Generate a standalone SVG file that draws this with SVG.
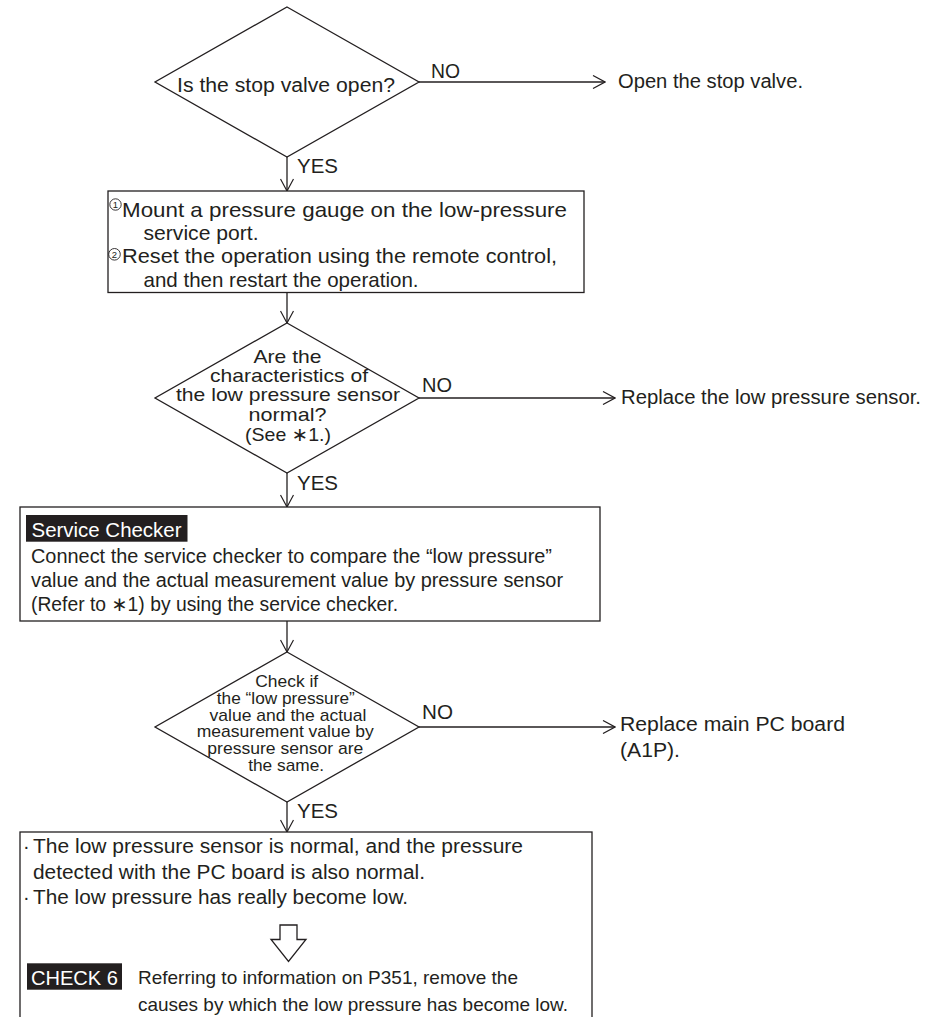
<svg xmlns="http://www.w3.org/2000/svg" width="945" height="1017" viewBox="0 0 945 1017">
  <style>
    text { font-family: "Liberation Sans", Arial, Helvetica, "DejaVu Sans", sans-serif; fill: #231f20; }
    .t20 { font-size: 20px; }
    .t21 { font-size: 21px; }
    .t19 { font-size: 19px; }
    .t17 { font-size: 17px; }
    .mid { text-anchor: middle; }
    .inv { fill: #ffffff; }
    .num { font-size: 9.5px; text-anchor: middle; }
    .ring { fill: none; stroke: #231f20; stroke-width: 0.9; }
    .shape { fill: #ffffff; stroke: #231f20; stroke-width: 1.3; }
    .line { fill: none; stroke: #231f20; stroke-width: 1.3; }
    .tag { fill: #231f20; }
  </style>
  <defs>
    <marker id="arrow" viewBox="0 0 14 14" markerWidth="14" markerHeight="14" markerUnits="userSpaceOnUse" refX="13" refY="7" orient="auto">
      <path d="M1,0.5 L13,7 L1,13.5" fill="none" stroke="#231f20" stroke-width="1.2"/>
    </marker>
  </defs>
  <rect width="945" height="1017" fill="#ffffff"/>

  <!-- connectors -->
  <g id="connectors">
    <line class="line" x1="287" y1="157" x2="287" y2="191" marker-end="url(#arrow)"/>
    <line class="line" x1="419" y1="82" x2="605" y2="82" marker-end="url(#arrow)"/>
    <line class="line" x1="287" y1="292.5" x2="287" y2="323" marker-end="url(#arrow)"/>
    <line class="line" x1="419" y1="398" x2="615" y2="398" marker-end="url(#arrow)"/>
    <line class="line" x1="287" y1="473" x2="287" y2="507" marker-end="url(#arrow)"/>
    <line class="line" x1="287" y1="621" x2="287" y2="652" marker-end="url(#arrow)"/>
    <line class="line" x1="419" y1="727" x2="615" y2="727" marker-end="url(#arrow)"/>
    <line class="line" x1="287" y1="802" x2="287" y2="832" marker-end="url(#arrow)"/>
    <text class="t20" x="431" y="78" textLength="29" lengthAdjust="spacingAndGlyphs">NO</text>
    <text class="t20" x="297" y="172.7" textLength="41" lengthAdjust="spacingAndGlyphs">YES</text>
    <text class="t20" x="422" y="391.7" textLength="30" lengthAdjust="spacingAndGlyphs">NO</text>
    <text class="t20" x="297" y="490" textLength="41" lengthAdjust="spacingAndGlyphs">YES</text>
    <text class="t20" x="422" y="719" textLength="31" lengthAdjust="spacingAndGlyphs">NO</text>
    <text class="t20" x="297" y="818" textLength="41" lengthAdjust="spacingAndGlyphs">YES</text>
  </g>

  <!-- decision: stop valve -->
  <g id="q-stop-valve">
    <polygon class="shape" points="287,7 419,82 287,157 155,82"/>
    <text class="t20" x="177" y="92" textLength="218" lengthAdjust="spacingAndGlyphs">Is the stop valve open?</text>
  </g>

  <g id="open-valve">
    <text class="t20" x="618" y="88" textLength="185" lengthAdjust="spacingAndGlyphs">Open the stop valve.</text>
  </g>

  <!-- step: gauge and reset -->
  <g id="mount-gauge">
    <rect class="shape" x="108" y="191" width="476" height="101.5"/>
    <circle class="ring" cx="115.5" cy="204.5" r="5.7"/>
    <text class="num" x="115.5" y="207.9">1</text>
    <text class="t21" x="122" y="217" textLength="445" lengthAdjust="spacingAndGlyphs">Mount a pressure gauge on the low-pressure</text>
    <text class="t21" x="143.5" y="239.5" textLength="115" lengthAdjust="spacingAndGlyphs">service port.</text>
    <circle class="ring" cx="114.5" cy="254.3" r="5.8"/>
    <text class="num" x="114.5" y="257.7">2</text>
    <text class="t21" x="122" y="263" textLength="435" lengthAdjust="spacingAndGlyphs">Reset the operation using the remote control,</text>
    <text class="t21" x="143.5" y="286.5" textLength="275" lengthAdjust="spacingAndGlyphs">and then restart the operation.</text>
  </g>

  <!-- decision: sensor characteristics -->
  <g id="q-sensor">
    <polygon class="shape" points="287,323 419,398 287,473 155,398"/>
    <text class="t19 mid" x="287.5" y="363" textLength="68" lengthAdjust="spacingAndGlyphs">Are the</text>
    <text class="t19 mid" x="289" y="382" textLength="158" lengthAdjust="spacingAndGlyphs">characteristics of</text>
    <text class="t19 mid" x="288" y="401" textLength="224" lengthAdjust="spacingAndGlyphs">the low pressure sensor</text>
    <text class="t19 mid" x="287.5" y="421" textLength="78" lengthAdjust="spacingAndGlyphs">normal?</text>
    <text class="t19 mid" x="288" y="440.5" textLength="86" lengthAdjust="spacingAndGlyphs">(See ∗1.)</text>
  </g>

  <g id="replace-sensor">
    <text class="t20" x="621" y="404" textLength="300" lengthAdjust="spacingAndGlyphs">Replace the low pressure sensor.</text>
  </g>

  <!-- step: service checker -->
  <g id="service-checker">
    <rect class="shape" x="20" y="507" width="580" height="114"/>
    <rect class="tag" x="26" y="515" width="161.5" height="26.7"/>
    <text class="t20 inv" x="31.5" y="537" textLength="150" lengthAdjust="spacingAndGlyphs">Service Checker</text>
    <text class="t20" x="31" y="563" textLength="521" lengthAdjust="spacingAndGlyphs">Connect the service checker to compare the “low pressure”</text>
    <text class="t20" x="31" y="587" textLength="532" lengthAdjust="spacingAndGlyphs">value and the actual measurement value by pressure sensor</text>
    <text class="t20" x="31" y="611" textLength="367" lengthAdjust="spacingAndGlyphs">(Refer to ∗1) by using the service checker.</text>
  </g>

  <!-- decision: checker value vs sensor -->
  <g id="q-compare">
    <polygon class="shape" points="287,652 419,727 287,802 155,727"/>
    <text class="t17 mid" x="286.7" y="687.3" textLength="63" lengthAdjust="spacingAndGlyphs">Check if</text>
    <text class="t17 mid" x="285.8" y="704" textLength="138" lengthAdjust="spacingAndGlyphs">the “low pressure”</text>
    <text class="t17 mid" x="288" y="720.7" textLength="157" lengthAdjust="spacingAndGlyphs">value and the actual</text>
    <text class="t17 mid" x="285.3" y="737.3" textLength="177" lengthAdjust="spacingAndGlyphs">measurement value by</text>
    <text class="t17 mid" x="285.3" y="754" textLength="156" lengthAdjust="spacingAndGlyphs">pressure sensor are</text>
    <text class="t17 mid" x="286.2" y="770.7" textLength="76" lengthAdjust="spacingAndGlyphs">the same.</text>
  </g>

  <g id="replace-board">
    <text class="t20" x="620" y="731" textLength="225" lengthAdjust="spacingAndGlyphs">Replace main PC board</text>
    <text class="t20" x="620" y="756.5" textLength="60" lengthAdjust="spacingAndGlyphs">(A1P).</text>
  </g>

  <!-- result: pressure really low (box runs off the bottom edge) -->
  <g id="result">
    <rect class="shape" x="20" y="832" width="572" height="200"/>
    <text class="t20" x="23" y="853">·</text>
    <text class="t20" x="33" y="853" textLength="490" lengthAdjust="spacingAndGlyphs">The low pressure sensor is normal, and the pressure</text>
    <text class="t20" x="33" y="879" textLength="392" lengthAdjust="spacingAndGlyphs">detected with the PC board is also normal.</text>
    <text class="t20" x="23" y="904">·</text>
    <text class="t20" x="33" y="904" textLength="375" lengthAdjust="spacingAndGlyphs">The low pressure has really become low.</text>
    <path class="shape" d="M280,925 L297,925 L297,939.5 L306,939.5 L288.5,961.5 L271,939.5 L280,939.5 Z"/>
    <rect class="tag" x="27" y="963.3" width="95" height="26.4"/>
    <text class="t20 inv" x="31" y="985" textLength="87" lengthAdjust="spacingAndGlyphs">CHECK 6</text>
    <text class="t19" x="138" y="984" textLength="380" lengthAdjust="spacingAndGlyphs">Referring to information on P351, remove the</text>
    <text class="t19" x="138" y="1011" textLength="430" lengthAdjust="spacingAndGlyphs">causes by which the low pressure has become low.</text>
  </g>
</svg>
